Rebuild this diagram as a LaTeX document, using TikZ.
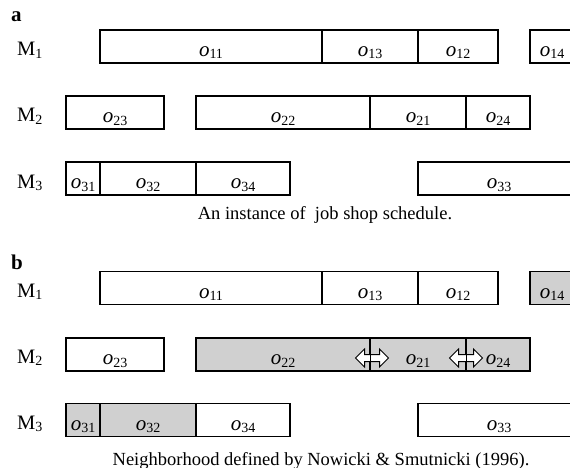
\documentclass[tikz,border=0pt]{standalone}
\usepackage{fontspec}
\setmainfont{Liberation Serif}
\usetikzlibrary{shapes.arrows}
\newcommand\opl[1]{\textit{o}\raisebox{-2.5pt}{\fontsize{14pt}{14pt}\selectfont #1}}
\newcommand\mlab[1]{M\raisebox{-2.5pt}{\fontsize{14pt}{14pt}\selectfont #1}}
\definecolor{shade}{HTML}{D0D0D0}
\tikzset{
  op/.style={rectangle, draw=black, line width=1.1pt, minimum height=33pt, inner sep=0pt,
    text height=20pt, text depth=0pt, font=\fontsize{21pt}{21pt}\selectfont, fill=white},
  hot/.style={fill=shade},
  mlabel/.style={anchor=base west, inner sep=0pt, font=\fontsize{20.5pt}{20.5pt}\selectfont},
  plabel/.style={anchor=base west, inner sep=0pt, font=\fontsize{21pt}{21pt}\selectfont\bfseries},
  caption/.style={anchor=base, inner sep=0pt, font=\fontsize{18.5pt}{18.5pt}\selectfont},
  swap/.style={double arrow, draw=black, line width=1pt, fill=white, inner sep=3pt,
    minimum height=33pt, minimum width=17pt, double arrow head extend=5.5pt}
}
\begin{document}
\begin{tikzpicture}[x=1pt,y=-1pt]
\useasboundingbox (0,0) rectangle (570,468);
\clip (0,0) rectangle (570,468);
% ---------- panel a ----------
\node[plabel] (la) at (11,22) {a};
\node[mlabel] (am1) at (17,56) {\mlab{1}};
\node[mlabel] (am2) at (17,122) {\mlab{2}};
\node[mlabel] (am3) at (17,188) {\mlab{3}};
% M1 row
\node[op, minimum width=222pt] (a11) at (211,46.5) {\opl{11}};
\node[op, minimum width=96pt]  (a13) at (370,46.5) {\opl{13}};
\node[op, minimum width=80pt]  (a12) at (458,46.5) {\opl{12}};
\node[op, minimum width=44pt]  (a14) at (552,46.5) {\opl{14}};
% M2 row
\node[op, minimum width=98pt]  (a23) at (115,112.5) {\opl{23}};
\node[op, minimum width=174pt] (a22) at (283,112.5) {\opl{22}};
\node[op, minimum width=96pt]  (a21) at (418,112.5) {\opl{21}};
\node[op, minimum width=64pt]  (a24) at (498,112.5) {\opl{24}};
% M3 row
\node[op, minimum width=34pt]  (a31) at (83,178.5) {\opl{31}};
\node[op, minimum width=96pt]  (a32) at (148,178.5) {\opl{32}};
\node[op, minimum width=94pt]  (a34) at (243,178.5) {\opl{34}};
\node[op, minimum width=162pt] (a33) at (499,178.5) {\opl{33}};
\node[caption] (capa) at (325,219) {An instance of \ job shop schedule.};
% ---------- panel b ----------
\node[plabel] (lb) at (11,269) {b};
\node[mlabel] (bm1) at (17,297) {\mlab{1}};
\node[mlabel] (bm2) at (17,363) {\mlab{2}};
\node[mlabel] (bm3) at (17,429) {\mlab{3}};
% M1 row
\node[op, minimum width=222pt] (b11) at (211,288) {\opl{11}};
\node[op, minimum width=96pt]  (b13) at (370,288) {\opl{13}};
\node[op, minimum width=80pt]  (b12) at (458,288) {\opl{12}};
\node[op, hot, minimum width=44pt] (b14) at (552,288) {\opl{14}};
% M2 row
\node[op, minimum width=98pt]       (b23) at (115,354.5) {\opl{23}};
\node[op, hot, minimum width=174pt] (b22) at (283,354.5) {\opl{22}};
\node[op, hot, minimum width=96pt]  (b21) at (418,354.5) {\opl{21}};
\node[op, hot, minimum width=64pt]  (b24) at (498,354.5) {\opl{24}};
% M3 row
\node[op, hot, minimum width=34pt]  (b31) at (83,420) {\opl{31}};
\node[op, hot, minimum width=96pt]  (b32) at (148,420) {\opl{32}};
\node[op, minimum width=94pt]       (b34) at (243,420) {\opl{34}};
\node[op, minimum width=162pt]      (b33) at (499,420) {\opl{33}};
% swap arrows
\node[swap] (sw1) at (372,358) {};
\node[swap] (sw2) at (466,358) {};
\draw[line width=1.1pt] (b22.north east) -- (b22.south east);
\draw[line width=1.1pt] (b21.north east) -- (b21.south east);
\node[caption] (capb) at (321,465) {Neighborhood defined by Nowicki \& Smutnicki (1996).};
\end{tikzpicture}
\end{document}
